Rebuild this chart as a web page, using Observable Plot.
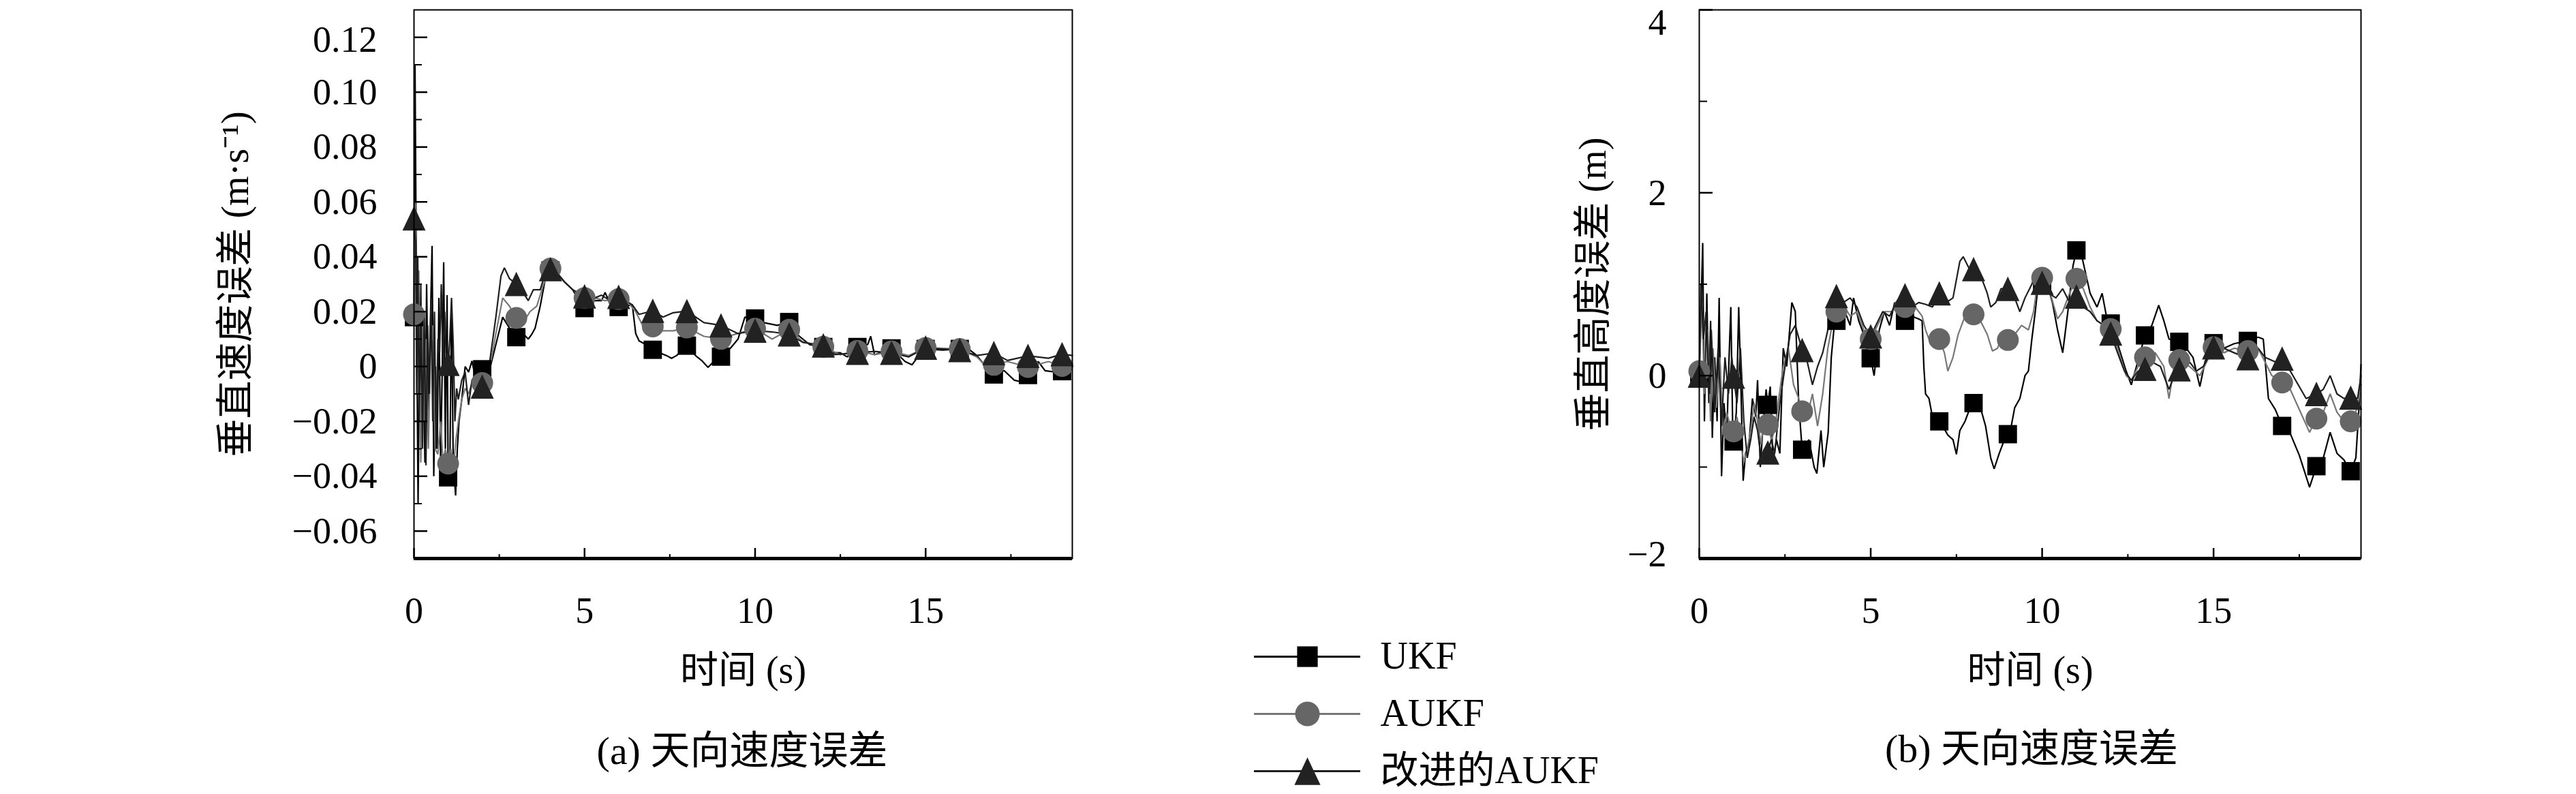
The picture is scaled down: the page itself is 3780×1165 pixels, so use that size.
<!DOCTYPE html>
<html>
<head>
<meta charset="utf-8">
<script src="https://cdn.jsdelivr.net/npm/d3@7"></script>
<script src="https://cdn.jsdelivr.net/npm/@observablehq/plot@0.6"></script>
<style>
html, body { margin: 0; padding: 0; background: #fff; }
#root { position: relative; width: 3780px; height: 1165px; overflow: hidden; background: #fff;
  font-family: "Liberation Serif", "Noto Sans CJK SC", serif; color: #000; }
.box { position: absolute; }
.box svg { max-width: none !important; display: block; }
.caption { position: absolute; font-size: 58px; white-space: nowrap; transform: translate(-50%, -50%); line-height: 1; }
</style>
</head>
<body>
<div id="root"></div>
<script>
// ---------------- data ----------------
const seriesNames = ["UKF", "AUKF", "改进的AUKF"];
const markerTimes = [0,1,2,3,4,5,6,7,8,9,10,11,12,13,14,15,16,17,18,19];

// (a) vertical velocity error, m/s  -- [time, value]
const velUKF = [[0,0.02],[0.03,0.11],[0.07,0.03],[0.12,-0.05],[0.17,0.02],[0.22,-0.025],[0.27,0.005],[0.32,-0.035],[0.37,0.03],[0.42,-0.02],[0.47,0.01],[0.53,0.044],[0.58,-0.04],[0.63,0.0],[0.68,-0.03],[0.73,0.025],[0.78,-0.035],[0.83,0.0],[0.87,0.038],[0.92,-0.03],[0.97,0.026],[1.0,-0.0404],[1.05,-0.038],[1.1,0.022],[1.15,-0.035],[1.22,-0.047],[1.27,-0.03],[1.32,-0.02],[1.4,-0.012],[1.5,0.0],[1.6,-0.002],[1.7,0.002],[1.8,-0.004],[1.9,0.0],[2.0,-0.001],[2.1,0.001],[2.2,-0.002],[2.4,0.008],[2.6,0.018],[2.8,0.014],[3.0,0.0107],[3.2,0.012],[3.35,0.010],[3.45,0.0117],[3.55,0.014],[3.7,0.022],[3.85,0.032],[4.0,0.035],[4.2,0.034],[4.4,0.031],[4.65,0.028],[5.0,0.021],[5.2,0.024],[5.5,0.024],[5.6,0.027],[5.75,0.023],[6.0,0.0217],[6.2,0.022],[6.4,0.0225],[6.5,0.012],[6.6,0.0093],[6.8,0.008],[7.0,0.0061],[7.2,0.005],[7.4,0.004],[7.55,0.003],[7.7,0.004],[8.0,0.0076],[8.25,0.004],[8.45,0.002],[8.62,-0.0003],[8.8,0.002],[9.0,0.0036],[9.3,0.007],[9.5,0.01],[9.7,0.018],[10.0,0.0175],[10.25,0.016],[10.65,0.015],[11.0,0.0162],[11.2,0.012],[11.4,0.010],[11.6,0.008],[12.0,0.0071],[12.2,0.005],[12.5,0.005],[12.7,0.0035],[13.0,0.0071],[13.3,0.008],[13.39,0.011],[13.5,0.0043],[14.0,0.0066],[14.4,0.0018],[14.6,0.0006],[14.8,0.004],[15.0,0.0064],[15.5,0.006],[16.0,0.0064],[16.3,0.006],[16.5,0.004],[16.75,0.0002],[17.0,-0.0029],[17.3,-0.0015],[17.6,-0.005],[17.8,-0.0056],[18.0,-0.0031],[18.3,0.0018],[18.5,-0.0015],[18.8,-0.002],[19.0,-0.0017],[19.3,0.0]];
const velAUKF = [[0,0.019],[0.04,0.06],[0.09,-0.01],[0.14,0.035],[0.2,-0.035],[0.25,0.02],[0.3,-0.02],[0.36,0.01],[0.42,-0.03],[0.48,0.005],[0.55,0.015],[0.62,-0.03],[0.7,-0.032],[0.78,-0.02],[0.85,-0.035],[0.92,-0.03],[1.0,-0.0354],[1.08,-0.03],[1.15,-0.038],[1.22,-0.028],[1.3,-0.02],[1.4,-0.012],[1.5,-0.008],[1.6,-0.01],[1.7,-0.006],[1.8,-0.008],[1.9,-0.005],[2.0,-0.006],[2.1,-0.003],[2.2,-0.002],[2.4,0.012],[2.6,0.025],[2.8,0.022],[3.0,0.0177],[3.2,0.016],[3.4,0.020],[3.6,0.022],[3.8,0.030],[4.0,0.0357],[4.2,0.034],[4.4,0.031],[4.65,0.028],[5.0,0.025],[5.3,0.025],[5.6,0.024],[6.0,0.0246],[6.3,0.023],[6.5,0.02],[6.7,0.015],[7.0,0.0146],[7.3,0.013],[7.6,0.013],[8.0,0.0142],[8.5,0.011],[9.0,0.0101],[9.4,0.0117],[10.0,0.0138],[10.5,0.010],[11.0,0.0134],[11.4,0.009],[12.0,0.0072],[12.5,0.0043],[13.0,0.0057],[13.5,0.0043],[14.0,0.0055],[14.5,0.004],[15.0,0.0068],[15.5,0.0066],[16.0,0.0064],[16.5,0.0035],[16.7,0.001],[17.0,0.0006],[17.4,0.0018],[18.0,-0.0002],[18.6,0.0018],[19.0,0.0002],[19.3,0.001]];
const velIAUKF = [[0,0.054],[0.02,0.05],[0.05,0.045],[0.08,-0.01],[0.11,0.04],[0.15,-0.02],[0.2,0.03],[0.25,-0.03],[0.3,0.02],[0.35,-0.036],[0.4,0.015],[0.45,-0.01],[0.5,0.025],[0.55,-0.02],[0.6,0.02],[0.65,-0.03],[0.7,0.01],[0.75,0.005],[0.8,0.03],[0.85,0.0],[0.9,0.02],[0.95,0.002],[1.0,0.001],[1.05,0.01],[1.1,0.025],[1.15,0.008],[1.2,-0.02],[1.25,-0.008],[1.3,-0.012],[1.4,-0.005],[1.5,-0.002],[1.6,-0.014],[1.7,-0.005],[1.8,-0.003],[1.9,-0.008],[2.0,-0.0073],[2.1,-0.004],[2.2,0.0],[2.4,0.018],[2.55,0.033],[2.65,0.036],[2.8,0.032],[3.0,0.0301],[3.2,0.027],[3.35,0.024],[3.5,0.028],[3.7,0.028],[3.85,0.034],[4.0,0.0355],[4.2,0.034],[4.4,0.031],[4.65,0.028],[5.0,0.0256],[5.3,0.025],[5.5,0.026],[5.75,0.024],[6.0,0.0254],[6.2,0.024],[6.4,0.0225],[6.6,0.019],[7.0,0.0203],[7.3,0.018],[7.6,0.0196],[8.0,0.0202],[8.5,0.016],[9.0,0.015],[9.5,0.012],[10.0,0.0131],[10.5,0.0126],[11.0,0.0117],[11.4,0.0088],[12.0,0.0077],[12.3,0.0043],[13.0,0.005],[13.5,0.0055],[14.0,0.005],[14.5,0.0035],[15.0,0.0069],[15.5,0.0064],[16.0,0.006],[16.5,0.004],[17.0,0.0049],[17.4,0.0022],[18.0,0.0039],[18.6,0.003],[19.0,0.0045],[19.3,0.004]];
const velMarkUKF   = [0.018,-0.0404,-0.001,0.0107,0.035,0.0213,0.0217,0.0061,0.0076,0.0036,0.0175,0.0162,0.0071,0.0071,0.0066,0.0064,0.0064,-0.0029,-0.0031,-0.0017];
const velMarkAUKF  = [0.019,-0.0354,-0.006,0.0177,0.0357,0.025,0.0246,0.0146,0.0142,0.0101,0.0138,0.0134,0.0072,0.0057,0.0055,0.0068,0.0064,0.0006,-0.0002,0.0002];
const velMarkIAUKF = [0.054,0.001,-0.0073,0.0301,0.0355,0.0256,0.0254,0.0203,0.0202,0.015,0.0131,0.0117,0.0077,0.005,0.005,0.0069,0.006,0.0049,0.0039,0.0045];

// (b) vertical height error, m -- [time, value]
const htUKF = [[0,0.0],[0.1,1.45],[0.15,-0.5],[0.22,0.9],[0.28,-0.3],[0.33,0.6],[0.38,-0.68],[0.45,0.2],[0.52,-0.5],[0.58,0.85],[0.65,-1.1],[0.72,-0.3],[0.8,-0.7],[0.86,0.1],[0.92,0.75],[0.98,-0.7],[1.0,-0.72],[1.08,-0.4],[1.15,0.75],[1.22,-0.2],[1.28,-1.15],[1.35,-0.85],[1.45,-0.75],[1.55,-0.25],[1.65,-0.45],[1.7,-0.05],[1.78,-1.0],[1.85,-0.6],[1.95,-0.15],[2.0,-0.32],[2.07,-0.12],[2.15,-0.95],[2.25,-0.7],[2.35,-0.85],[2.45,0.3],[2.55,0.1],[2.7,0.8],[2.8,0.7],[2.9,-0.3],[3.0,-0.81],[3.2,-0.7],[3.35,-1.0],[3.43,-1.07],[3.55,-0.6],[3.63,-1.0],[3.76,-0.62],[3.85,0.2],[3.95,0.6],[4.0,0.6],[4.2,0.75],[4.4,0.55],[4.5,0.85],[4.65,0.6],[4.8,0.45],[5.0,0.19],[5.1,0.0],[5.25,0.5],[5.4,0.7],[5.55,0.55],[5.7,0.8],[5.85,0.65],[6.0,0.6],[6.2,0.65],[6.4,0.62],[6.5,0.6],[6.55,0.1],[6.6,-0.2],[6.7,-0.25],[6.8,-0.45],[7.0,-0.5],[7.1,-0.55],[7.25,-0.65],[7.4,-0.7],[7.5,-0.86],[7.6,-0.6],[7.75,-0.5],[7.9,-0.35],[8.0,-0.3],[8.2,-0.35],[8.35,-0.55],[8.5,-0.9],[8.6,-1.02],[8.75,-0.85],[8.9,-0.7],[9.0,-0.64],[9.1,-0.55],[9.2,-0.35],[9.35,-0.25],[9.5,0.0],[9.6,0.05],[9.7,0.4],[9.8,0.7],[9.9,1.05],[10.0,1.0],[10.15,1.0],[10.3,0.8],[10.45,0.5],[10.6,0.25],[10.75,0.7],[10.9,1.2],[11.0,1.37],[11.1,1.4],[11.25,1.15],[11.4,0.9],[11.6,0.75],[11.75,0.9],[11.9,0.6],[12.0,0.57],[12.2,0.35],[12.45,0.05],[12.6,-0.1],[12.75,0.1],[13.0,0.44],[13.2,0.55],[13.4,0.77],[13.55,0.6],[13.7,0.4],[14.0,0.37],[14.2,0.3],[14.4,0.2],[14.6,-0.12],[14.75,0.15],[15.0,0.355],[15.3,0.3],[15.6,0.35],[16.0,0.38],[16.3,0.42],[16.45,0.4],[16.6,-0.25],[16.8,-0.37],[17.0,-0.55],[17.2,-0.6],[17.5,-0.87],[17.8,-1.22],[18.0,-0.99],[18.2,-0.9],[18.4,-0.62],[18.6,-0.85],[18.8,-0.92],[19.0,-1.045],[19.15,-0.9],[19.25,-0.3],[19.3,0.12]];
const htAUKF = [[0,0.05],[0.08,0.8],[0.15,-0.2],[0.25,0.5],[0.33,-0.5],[0.4,0.3],[0.5,-0.35],[0.6,0.2],[0.7,-0.65],[0.8,-0.4],[0.9,-0.55],[1.0,-0.61],[1.1,-0.45],[1.2,-0.7],[1.3,-0.95],[1.4,-0.8],[1.5,-0.6],[1.6,-0.3],[1.7,-0.5],[1.8,-0.75],[1.9,-0.45],[2.0,-0.535],[2.1,-0.7],[2.2,-0.6],[2.3,-0.3],[2.45,0.1],[2.6,0.3],[2.75,-0.1],[2.9,-0.25],[3.0,-0.39],[3.15,-0.45],[3.3,-0.2],[3.45,-0.55],[3.6,-0.2],[3.75,0.3],[3.9,0.6],[4.0,0.7],[4.2,0.78],[4.4,0.65],[4.6,0.7],[4.8,0.5],[5.0,0.4],[5.2,0.55],[5.4,0.7],[5.6,0.7],[5.8,0.75],[6.0,0.75],[6.2,0.8],[6.4,0.7],[6.5,0.65],[6.6,0.5],[6.75,0.35],[7.0,0.4],[7.15,0.25],[7.25,0.05],[7.4,0.2],[7.55,0.45],[7.75,0.65],[8.0,0.67],[8.2,0.6],[8.4,0.45],[8.55,0.27],[8.7,0.3],[8.85,0.45],[9.0,0.39],[9.2,0.45],[9.4,0.55],[9.6,0.5],[9.75,0.7],[9.9,1.1],[10.0,1.07],[10.2,0.95],[10.45,0.62],[10.6,0.7],[10.8,0.9],[11.0,1.06],[11.2,0.95],[11.4,0.75],[11.6,0.6],[11.8,0.55],[12.0,0.51],[12.2,0.3],[12.45,0.0],[12.6,-0.05],[12.8,0.1],[13.0,0.2],[13.3,0.25],[13.55,0.1],[13.7,-0.25],[13.85,0.1],[14.0,0.17],[14.3,0.1],[14.6,0.0],[14.8,0.15],[15.0,0.31],[15.3,0.25],[15.6,0.3],[16.0,0.27],[16.3,0.3],[16.5,0.15],[16.7,0.0],[17.0,-0.075],[17.2,-0.12],[17.5,-0.37],[17.8,-0.62],[18.0,-0.47],[18.2,-0.4],[18.4,-0.2],[18.6,-0.4],[18.8,-0.5],[19.0,-0.5],[19.2,-0.35],[19.3,-0.1]];
const htIAUKF = [[0,0.0],[0.05,1.0],[0.12,0.4],[0.2,0.7],[0.3,-0.2],[0.35,0.5],[0.45,-0.4],[0.55,0.3],[0.65,-0.55],[0.75,0.2],[0.85,-0.2],[0.95,0.2],[1.0,-0.01],[1.1,-0.3],[1.2,0.3],[1.3,-0.5],[1.4,-0.9],[1.5,-0.7],[1.6,-0.45],[1.7,-0.6],[1.8,-0.9],[1.9,-0.8],[2.0,-0.84],[2.1,-0.7],[2.2,-0.85],[2.35,-0.3],[2.5,0.1],[2.65,0.45],[2.8,0.55],[3.0,0.28],[3.15,0.15],[3.3,-0.1],[3.45,0.1],[3.6,0.25],[3.75,0.5],[3.9,0.8],[4.0,0.87],[4.2,0.8],[4.4,0.85],[4.6,0.75],[4.8,0.55],[5.0,0.43],[5.15,0.55],[5.35,0.7],[5.55,0.65],[5.75,0.8],[6.0,0.88],[6.2,0.75],[6.4,0.8],[6.6,0.78],[6.8,0.75],[7.0,0.9],[7.2,0.8],[7.4,0.85],[7.6,1.25],[7.7,1.3],[7.9,1.15],[8.0,1.165],[8.2,1.1],[8.4,0.9],[8.5,0.75],[8.65,0.8],[8.8,0.95],[9.0,0.95],[9.2,0.85],[9.35,0.7],[9.5,0.85],[9.7,1.0],[9.85,1.17],[10.0,1.016],[10.2,0.9],[10.4,0.85],[10.6,0.95],[10.8,0.8],[11.0,0.866],[11.2,0.75],[11.4,0.7],[11.6,0.6],[11.8,0.55],[12.0,0.46],[12.2,0.25],[12.4,0.05],[12.6,-0.05],[12.8,0.05],[13.0,0.075],[13.2,0.15],[13.45,0.1],[13.7,-0.15],[13.9,0.05],[14.0,0.07],[14.3,0.15],[14.5,0.05],[14.7,0.1],[15.0,0.31],[15.3,0.3],[15.6,0.25],[16.0,0.19],[16.3,0.3],[16.5,0.2],[16.8,0.15],[17.0,0.187],[17.2,0.075],[17.5,-0.12],[17.7,-0.25],[18.0,-0.2],[18.2,-0.15],[18.4,0.0],[18.6,-0.2],[18.8,-0.25],[19.0,-0.24],[19.2,-0.25],[19.3,0.0]];
const htMarkUKF   = [0.0,-0.72,-0.32,-0.81,0.6,0.19,0.6,-0.50,-0.30,-0.64,1.0,1.37,0.57,0.44,0.37,0.355,0.38,-0.55,-0.99,-1.045];
const htMarkAUKF  = [0.05,-0.61,-0.535,-0.39,0.7,0.4,0.75,0.40,0.67,0.39,1.07,1.06,0.51,0.2,0.17,0.31,0.27,-0.075,-0.47,-0.50];
const htMarkIAUKF = [0.0,-0.01,-0.84,0.28,0.87,0.43,0.88,0.90,1.165,0.95,1.016,0.866,0.46,0.075,0.07,0.31,0.19,0.187,-0.20,-0.24];

// axes / labels
const timeDomain = [0, 19.3];
const xTicks = [0, 5, 10, 15];
const xTickLabels = ["0", "5", "10", "15"];
const xMinorTicks = [2.5, 7.5, 12.5, 17.5];
const velDomain = [-0.07, 0.13];
const velTicks = [-0.06, -0.04, -0.02, 0, 0.02, 0.04, 0.06, 0.08, 0.10, 0.12];
const velTickLabels = ["−0.06", "−0.04", "−0.02", "0", "0.02", "0.04", "0.06", "0.08", "0.10", "0.12"];
const velMinorTicks = [-0.05, -0.03, -0.01, 0.01, 0.03, 0.05, 0.07, 0.09, 0.11];
const htDomain = [-2, 4];
const htTicks = [-2, 0, 2, 4];
const htTickLabels = ["−2", "0", "2", "4"];
const htMinorTicks = [-1, 1, 3];
const xLabel = "时间 (s)";
const velYLabel = "垂直速度误差 (m·s⁻¹)";
const htYLabel = "垂直高度误差 (m)";
const captionA = "(a) 天向速度误差";
const captionB = "(b) 天向速度误差";

// ---------------- styling ----------------
const FONT = '"Liberation Serif", "Noto Sans CJK SC", serif';
const LINE_COLORS = ["#000000", "#777777", "#1e1e1e"];
const FILL_COLORS = ["#000000", "#666666", "#222222"];
const squareSym = { draw(ctx, size) { const r = Math.sqrt(size / Math.PI); const h = r * 0.84; ctx.rect(-h, -h, 2 * h, 2 * h); } };
const triSym = { draw(ctx, size) { const r = Math.sqrt(size / Math.PI); const w = r * 1.06, h = r * 1.12; ctx.moveTo(0, -h); ctx.lineTo(w, h); ctx.lineTo(-w, h); ctx.closePath(); } };
const SYMBOLS = [squareSym, "circle", triSym];
const MARK_R = [16, 16, 16];
const TICK_FONT = 54;

function labelOf(ticks, labels) {
  return d => { const i = ticks.findIndex(t => Math.abs(t - d) < 1e-9); return i < 0 ? "" : labels[i]; };
}

function panel(cfg) {
  const pw = cfg.W - cfg.mL - cfg.mR, ph = cfg.H - cfg.mT - cfg.mB;
  const marks = [];
  cfg.lines.forEach((pts, i) => marks.push(
    Plot.line(pts, { x: d => d[0], y: d => d[1], stroke: LINE_COLORS[i], strokeWidth: 2.2, strokeLinejoin: "miter" })));
  cfg.markers.forEach((vals, i) => marks.push(
    Plot.dot(vals.map((v, k) => [markerTimes[k], v]), { x: d => d[0], y: d => d[1], symbol: SYMBOLS[i], r: MARK_R[i], fill: FILL_COLORS[i] })));
  marks.push(Plot.frame({ stroke: "#000", strokeWidth: 2 }));
  marks.push(Plot.ruleY([cfg.yDomain[0]], { y: d => d, stroke: "#000", strokeWidth: 5 }));
  marks.push(Plot.tickY(cfg.yTicks, { y: d => d, insetRight: pw - 20, stroke: "#000", strokeWidth: 2.5 }));
  marks.push(Plot.tickY(cfg.yMinor, { y: d => d, insetRight: pw - 12, stroke: "#000", strokeWidth: 2 }));
  marks.push(Plot.tickX(xTicks, { x: d => d, insetTop: ph - 15, stroke: "#000", strokeWidth: 2.5 }));
  marks.push(Plot.tickX(xMinorTicks, { x: d => d, insetTop: ph - 6, stroke: "#000", strokeWidth: 2 }));
  marks.push(Plot.text([cfg.yLabel], { text: d => d, frameAnchor: "left", textAnchor: "middle", lineAnchor: "middle", rotate: -90, dx: cfg.yLabelDx, fontSize: 56, fill: "#000" }));
  marks.push(Plot.text([xLabel], { text: d => d, frameAnchor: "bottom", textAnchor: "middle", dy: 182, fontSize: 56, fill: "#000" }));
  const yFmt = labelOf(cfg.yTicks, cfg.yTickLabels);
  const useAxisMarks = typeof Plot.axisY === "function";
  if (useAxisMarks) {
    cfg.yLabelGroups.forEach(g => marks.push(Plot.axisY(g.ticks, {
      tickSize: 0, tickPadding: cfg.yPad, tickFormat: yFmt, dy: g.dy, fontSize: TICK_FONT, label: null
    })));
  }
  return Plot.plot({
    width: cfg.W, height: cfg.H,
    marginLeft: cfg.mL, marginRight: cfg.mR, marginTop: cfg.mT, marginBottom: cfg.mB,
    style: { fontFamily: FONT, fontSize: TICK_FONT + "px", color: "#000", background: "transparent", overflow: "visible" },
    x: { domain: timeDomain, ticks: xTicks, tickSize: 0, tickPadding: 56, tickFormat: labelOf(xTicks, xTickLabels), label: null },
    y: useAxisMarks
      ? { domain: cfg.yDomain, axis: null, label: null }
      : { domain: cfg.yDomain, ticks: cfg.yTicks, tickSize: 0, tickPadding: cfg.yPad, tickFormat: yFmt, label: null },
    marks
  });
}

function place(node, left, top, w) {
  const div = document.createElement("div");
  div.className = "box";
  div.style.left = left + "px"; div.style.top = top + "px"; div.style.width = w + "px";
  div.appendChild(node);
  document.getElementById("root").appendChild(div);
}

const plotA = panel({
  W: 1700, H: 1040, mL: 607, mR: 127, mT: 14, mB: 221,
  yDomain: velDomain, yTicks: velTicks, yTickLabels: velTickLabels, yMinor: velMinorTicks, yPad: 54,
  yLabelGroups: [{ ticks: velTicks.filter(t => t > 0.11), dy: 4 }, { ticks: velTicks.filter(t => t <= 0.11), dy: 0 }],
  yLabel: velYLabel, yLabelDx: -261,
  lines: [velUKF, velAUKF, velIAUKF], markers: [velMarkUKF, velMarkAUKF, velMarkIAUKF]
});
place(plotA, 0, 0, 1700);

const plotB = panel({
  W: 1400, H: 1040, mL: 293, mR: 136, mT: 14, mB: 221,
  yDomain: htDomain, yTicks: htTicks, yTickLabels: htTickLabels, yMinor: htMinorTicks, yPad: 48,
  yLabelGroups: [{ ticks: [4], dy: 19 }, { ticks: [2, 0], dy: 1 }, { ticks: [-2], dy: -6 }],
  yLabel: htYLabel, yLabelDx: -155,
  lines: [htUKF, htAUKF, htIAUKF], markers: [htMarkUKF, htMarkAUKF, htMarkIAUKF]
});
place(plotB, 2200, 0, 1400);

// legend
const legMarks = [];
seriesNames.forEach((name, i) => {
  legMarks.push(Plot.ruleY([name], { y: d => d, x1: () => 0, x2: () => 1, stroke: LINE_COLORS[i], strokeWidth: 3 }));
  legMarks.push(Plot.dot([name], { x: () => 0.5, y: d => d, symbol: SYMBOLS[i], r: 18, fill: FILL_COLORS[i] }));
  legMarks.push(Plot.text([name], { x: () => 1, y: d => d, text: d => d, dx: 29, textAnchor: "start", fontSize: 56, fill: "#000" }));
});
const legend = Plot.plot({
  width: 800, height: 265, marginLeft: 40, marginRight: 604, marginTop: 62, marginBottom: 34,
  style: { fontFamily: FONT, color: "#000", background: "transparent", overflow: "visible" },
  x: { domain: [0, 1], axis: null },
  y: { type: "point", domain: seriesNames, padding: 0, axis: null },
  marks: legMarks
});
place(legend, 1800, 900, 800);

// captions
[[captionA, 1089, 1102], [captionB, 2981, 1099]].forEach(([txt, x, y]) => {
  const d = document.createElement("div");
  d.className = "caption";
  d.style.left = x + "px"; d.style.top = y + "px";
  d.textContent = txt;
  document.getElementById("root").appendChild(d);
});
</script>
</body>
</html>
